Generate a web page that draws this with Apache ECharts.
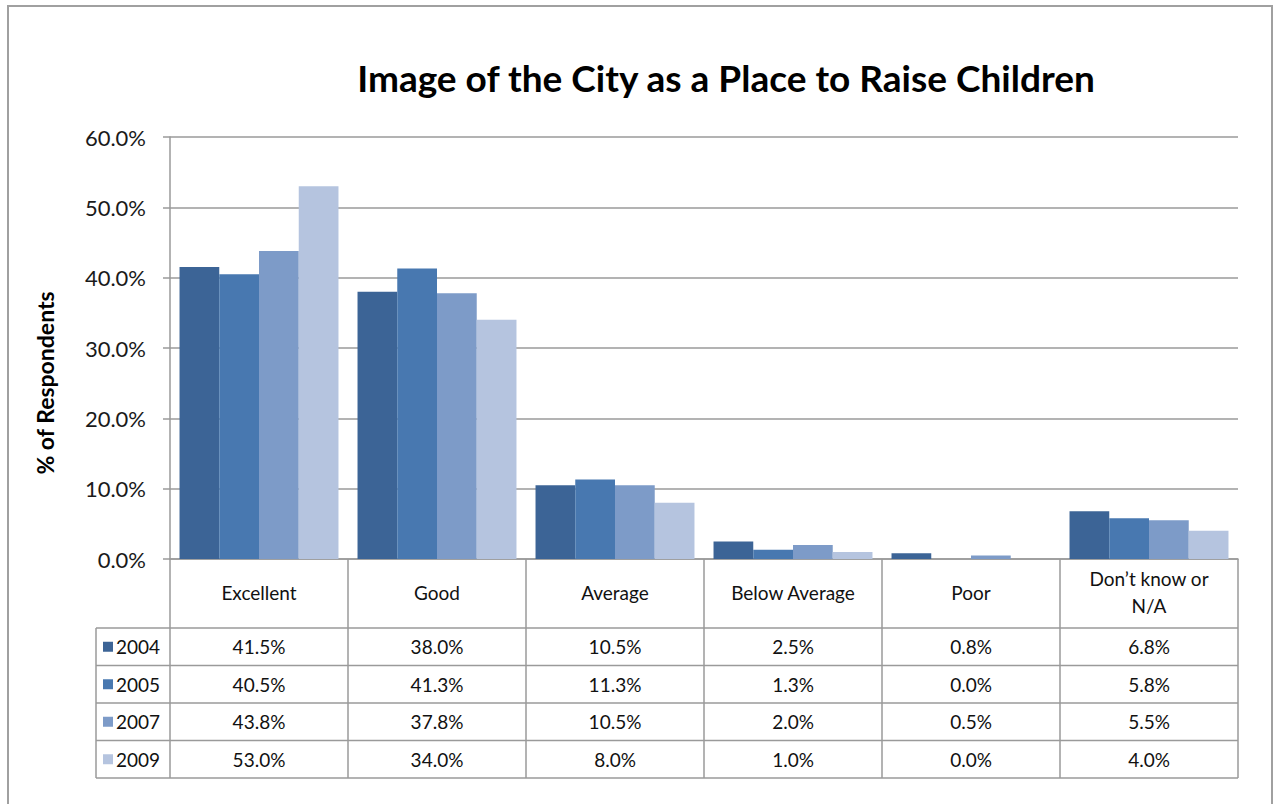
<!DOCTYPE html>
<html><head><meta charset="utf-8">
<script src="https://cdn.jsdelivr.net/npm/echarts@6/dist/echarts.min.js"></script>
<style>html,body{margin:0;padding:0;background:#fff}#c{width:1275px;height:804px}</style>
</head><body><div id="c"></div>
<script>
const categories = ['Excellent','Good','Average','Below Average','Poor','Don\u2019t know or\nN/A'];
const years = ['2004','2005','2007','2009'];
const s2004 = [41.5, 38.0, 10.5, 2.5, 0.8, 6.8];
const s2005 = [40.5, 41.3, 11.3, 1.3, 0.0, 5.8];
const s2007 = [43.8, 37.8, 10.5, 2.0, 0.5, 5.5];
const s2009 = [53.0, 34.0, 8.0, 1.0, 0.0, 4.0];
const yTicks = [0, 10, 20, 30, 40, 50, 60];

const seriesData = [s2004, s2005, s2007, s2009];
const colors = ['#3C6496', '#4878B0', '#7D9BC8', '#B5C4DF'];
const FONT = 'Lato';
const LINE = '#9a9a9a';

const chart = echarts.init(document.getElementById('c'), null, {renderer: 'svg'});
const grid = {left: 170, right: 37, top: 137, bottom: 245};
const option = {
  animation: false,
  color: colors,
  title: {
    text: 'Image of the City as a Place to Raise Children',
    left: 721, top: 54, textAlign: 'center',
    textStyle: {fontFamily: FONT, fontWeight: 'bold', fontSize: 37, color: '#000'}
  },
  grid: grid,
  xAxis: {
    type: 'category', data: categories,
    axisLine: {show: true, lineStyle: {color: LINE, width: 1.5}},
    axisTick: {show: false}, axisLabel: {show: false}
  },
  yAxis: {
    type: 'value', min: yTicks[0], max: yTicks[yTicks.length-1], interval: 10,
    axisLine: {show: true, lineStyle: {color: LINE, width: 1.5}},
    axisTick: {show: true, length: 7, lineStyle: {color: LINE, width: 1.5}},
    axisLabel: {margin: 24, fontFamily: FONT, fontSize: 22, color: '#1a1a1a',
      formatter: v => v.toFixed(1) + '%'},
    splitLine: {lineStyle: {color: LINE, width: 1.5}}
  },
  series: seriesData.map((d, i) => ({
    name: years[i], type: 'bar', data: d,
    barGap: '0%', barCategoryGap: '10.7%',
    itemStyle: {color: colors[i]}
  }))
};
chart.setOption(option);

// Data table below the axis, positioned from the axis scale
const yBase = chart.convertToPixel({yAxisIndex: 0}, 0);
const c0 = chart.convertToPixel({xAxisIndex: 0}, 0);
const c1 = chart.convertToPixel({xAxisIndex: 0}, 1);
const cw = c1 - c0;
const left = c0 - cw / 2;
const right = left + cw * categories.length;
const headerH = 69, rowH = 37.5, labelLeft = 96;
const els = [];
const bottom = yBase + headerH + rowH * years.length;
for (let i = 0; i <= categories.length; i++) {
  const x = left + cw * i;
  els.push({type: 'line', shape: {x1: x, y1: yBase, x2: x, y2: bottom}, style: {stroke: LINE, lineWidth: 1.5}});
}
els.push({type: 'line', shape: {x1: labelLeft, y1: yBase + headerH, x2: labelLeft, y2: bottom}, style: {stroke: LINE, lineWidth: 1.5}});
for (let r = 0; r <= years.length; r++) {
  const y = yBase + headerH + rowH * r;
  els.push({type: 'line', shape: {x1: labelLeft, y1: y, x2: right, y2: y}, style: {stroke: LINE, lineWidth: 1.5}});
}
categories.forEach((c, i) => {
  els.push({type: 'text', x: c0 + cw * i, y: yBase + headerH / 2 - 1.5,
    style: {text: c, fontFamily: FONT, fontSize: 19, fill: '#111', align: 'center', verticalAlign: 'middle', lineHeight: 27}});
});
years.forEach((yr, r) => {
  const yc = yBase + headerH + rowH * r + rowH / 2;
  els.push({type: 'rect', shape: {x: labelLeft + 7, y: yc - 5, width: 10, height: 10}, style: {fill: colors[r]}});
  els.push({type: 'text', x: labelLeft + 20, y: yc, style: {text: yr, fontFamily: FONT, fontSize: 19, fill: '#111', align: 'left', verticalAlign: 'middle'}});
  seriesData[r].forEach((v, i) => {
    els.push({type: 'text', x: c0 + cw * i, y: yc, style: {text: v.toFixed(1) + '%', fontFamily: FONT, fontSize: 19, fill: '#111', align: 'center', verticalAlign: 'middle'}});
  });
});
// y-axis title
els.push({type: 'text', x: 45, y: 383, rotation: Math.PI / 2,
  style: {text: '% of Respondents', fontFamily: FONT, fontWeight: 'bold', fontSize: 23, fill: '#000', align: 'center', verticalAlign: 'middle'}});
// outer chart border
els.push({type: 'rect', shape: {x: 8, y: 6, width: 1264, height: 810}, style: {fill: 'none', stroke: '#a0a0a0', lineWidth: 2}, z: -1});
chart.setOption({graphic: {elements: els}});
</script></body></html>
